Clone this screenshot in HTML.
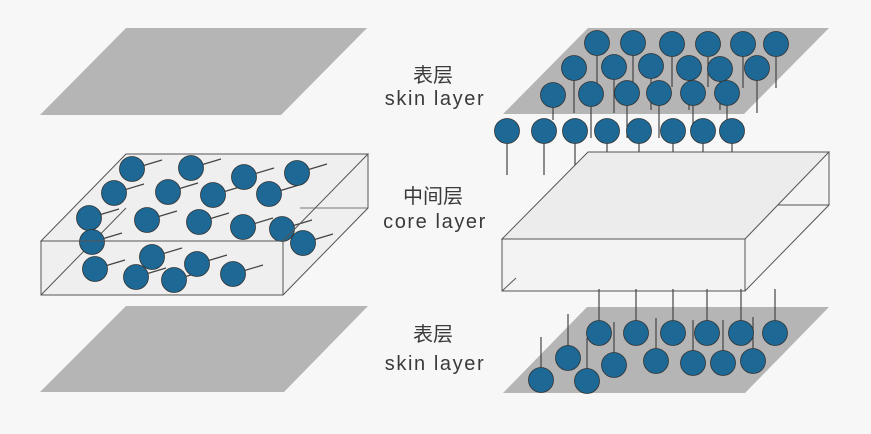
<!DOCTYPE html>
<html><head><meta charset="utf-8"><style>
html,body{margin:0;padding:0;background:#f7f7f7;}
svg{display:block;}
text{font-family:"Liberation Sans","Noto Sans CJK SC",sans-serif;fill:#3a3a3a;font-size:20px;text-anchor:middle;}
.c{fill:#1d6895;stroke:#333;stroke-width:0.8;}
.t{stroke:#444;stroke-width:1.2;}
.e{fill:none;stroke:#555;stroke-width:1;}
</style></head><body>
<svg width="871" height="434" viewBox="0 0 871 434" xmlns="http://www.w3.org/2000/svg">
<rect width="871" height="434" fill="#f7f7f7"/>
<polygon points="126,28 367,28 281,115 40,115" fill="#b5b5b5"/>
<polygon points="126,306 368,306 284,392 40,392" fill="#b5b5b5"/>
<polygon points="126,154 368,154 368,208 283,295 41,295 41,241" fill="#efefef"/>
<line class="e" x1="41" y1="295" x2="126" y2="208"/>
<line x1="300" y1="208" x2="368" y2="208" stroke="#777" stroke-width="1"/>
<g class="t">
<line x1="132" y1="169" x2="162" y2="160"/><line x1="191" y1="168" x2="221" y2="159"/><line x1="244" y1="177" x2="274" y2="168"/><line x1="297" y1="173" x2="327" y2="164"/>
<line x1="114" y1="193" x2="144" y2="184"/><line x1="168" y1="192" x2="198" y2="183"/><line x1="213" y1="195" x2="243" y2="186"/><line x1="269" y1="194" x2="299" y2="185"/>
<line x1="89" y1="218" x2="119" y2="209"/><line x1="147" y1="220" x2="177" y2="211"/><line x1="199" y1="222" x2="229" y2="213"/><line x1="243" y1="227" x2="273" y2="218"/><line x1="282" y1="229" x2="312" y2="220"/>
<line x1="92" y1="242" x2="122" y2="233"/><line x1="303" y1="243" x2="333" y2="234"/>
<line x1="95" y1="269" x2="125" y2="260"/><line x1="152" y1="257" x2="182" y2="248"/><line x1="197" y1="264" x2="227" y2="255"/><line x1="136" y1="277" x2="166" y2="268"/><line x1="174" y1="280" x2="204" y2="271"/><line x1="233" y1="274" x2="263" y2="265"/>
</g>
<g class="c">
<circle cx="132" cy="169" r="12.5"/><circle cx="191" cy="168" r="12.5"/><circle cx="244" cy="177" r="12.5"/><circle cx="297" cy="173" r="12.5"/>
<circle cx="114" cy="193" r="12.5"/><circle cx="168" cy="192" r="12.5"/><circle cx="213" cy="195" r="12.5"/><circle cx="269" cy="194" r="12.5"/>
<circle cx="89" cy="218" r="12.5"/><circle cx="147" cy="220" r="12.5"/><circle cx="199" cy="222" r="12.5"/><circle cx="243" cy="227" r="12.5"/><circle cx="282" cy="229" r="12.5"/>
<circle cx="92" cy="242" r="12.5"/><circle cx="303" cy="243" r="12.5"/>
<circle cx="95" cy="269" r="12.5"/><circle cx="152" cy="257" r="12.5"/><circle cx="197" cy="264" r="12.5"/><circle cx="136" cy="277" r="12.5"/><circle cx="174" cy="280" r="12.5"/><circle cx="233" cy="274" r="12.5"/>
</g>
<g class="e">
<polygon points="126,154 368,154 283,241 41,241"/>
<rect x="41" y="241" width="242" height="54"/>
<polyline points="368,154 368,208 283,295"/>
</g>

<polygon points="588,28 829,28 744,114 503,114" fill="#b5b5b5"/>
<g class="t">
<line x1="597" y1="43" x2="597" y2="83"/><line x1="633" y1="43" x2="633" y2="83"/><line x1="672" y1="43" x2="672" y2="87"/><line x1="708" y1="43" x2="708" y2="87"/><line x1="743" y1="43" x2="743" y2="88"/><line x1="776" y1="43" x2="776" y2="88"/>
<line x1="574" y1="68" x2="574" y2="113"/><line x1="614" y1="68" x2="614" y2="113"/><line x1="651" y1="68" x2="651" y2="110"/><line x1="689" y1="68" x2="689" y2="110"/><line x1="720" y1="68" x2="720" y2="110"/><line x1="757" y1="68" x2="757" y2="113"/>
<line x1="553" y1="94" x2="553" y2="120"/><line x1="591" y1="94" x2="591" y2="138"/><line x1="627" y1="94" x2="627" y2="138"/><line x1="659" y1="94" x2="659" y2="138"/><line x1="693" y1="94" x2="693" y2="138"/><line x1="727" y1="94" x2="727" y2="120"/>
<line x1="507" y1="131" x2="507" y2="175"/><line x1="544" y1="131" x2="544" y2="175"/><line x1="575" y1="131" x2="575" y2="175"/><line x1="607" y1="131" x2="607" y2="175"/><line x1="639" y1="131" x2="639" y2="175"/><line x1="673" y1="131" x2="673" y2="175"/><line x1="703" y1="131" x2="703" y2="175"/><line x1="732" y1="131" x2="732" y2="175"/>
</g>
<g class="c">
<circle cx="597" cy="43" r="12.5"/><circle cx="633" cy="43" r="12.5"/><circle cx="672" cy="44" r="12.5"/><circle cx="708" cy="44" r="12.5"/><circle cx="743" cy="44" r="12.5"/><circle cx="776" cy="44" r="12.5"/>
<circle cx="574" cy="68" r="12.5"/><circle cx="614" cy="67" r="12.5"/><circle cx="651" cy="66" r="12.5"/><circle cx="689" cy="68" r="12.5"/><circle cx="720" cy="69" r="12.5"/><circle cx="757" cy="68" r="12.5"/>
<circle cx="553" cy="95" r="12.5"/><circle cx="591" cy="94" r="12.5"/><circle cx="627" cy="93" r="12.5"/><circle cx="659" cy="93" r="12.5"/><circle cx="693" cy="93" r="12.5"/><circle cx="727" cy="93" r="12.5"/>
<circle cx="507" cy="131" r="12.5"/><circle cx="544" cy="131" r="12.5"/><circle cx="575" cy="131" r="12.5"/><circle cx="607" cy="131" r="12.5"/><circle cx="639" cy="131" r="12.5"/><circle cx="673" cy="131" r="12.5"/><circle cx="703" cy="131" r="12.5"/><circle cx="732" cy="131" r="12.5"/>
</g>

<polygon points="588,152 829,152 829,205 745,291 502,291 502,239" fill="#f3f3f3"/>
<polygon points="588,152 829,152 745,239 502,239" fill="#ececec"/>
<g class="e">
<polygon points="588,152 829,152 745,239 502,239"/>
<rect x="502" y="239" width="243" height="52"/>
<polyline points="829,152 829,205 745,291"/>
<line x1="778" y1="205" x2="829" y2="205"/>
<line x1="502" y1="291" x2="516" y2="278"/>
</g>

<polygon points="587,307 829,307 745,393 503,393" fill="#b5b5b5"/>
<g class="t">
<line x1="599" y1="289" x2="599" y2="333"/><line x1="636" y1="289" x2="636" y2="333"/><line x1="673" y1="289" x2="673" y2="333"/><line x1="707" y1="289" x2="707" y2="333"/><line x1="741" y1="289" x2="741" y2="333"/><line x1="775" y1="289" x2="775" y2="333"/>
<line x1="568" y1="314" x2="568" y2="358"/><line x1="614" y1="322" x2="614" y2="365"/><line x1="656" y1="318" x2="656" y2="361"/><line x1="693" y1="320" x2="693" y2="363"/><line x1="723" y1="320" x2="723" y2="363"/><line x1="753" y1="317" x2="753" y2="361"/>
<line x1="541" y1="337" x2="541" y2="380"/><line x1="587" y1="338" x2="587" y2="381"/>
</g>
<g class="c">
<circle cx="599" cy="333" r="12.5"/><circle cx="636" cy="333" r="12.5"/><circle cx="673" cy="333" r="12.5"/><circle cx="707" cy="333" r="12.5"/><circle cx="741" cy="333" r="12.5"/><circle cx="775" cy="333" r="12.5"/>
<circle cx="568" cy="358" r="12.5"/><circle cx="614" cy="365" r="12.5"/><circle cx="656" cy="361" r="12.5"/><circle cx="693" cy="363" r="12.5"/><circle cx="723" cy="363" r="12.5"/><circle cx="753" cy="361" r="12.5"/>
<circle cx="541" cy="380" r="12.5"/><circle cx="587" cy="381" r="12.5"/>
</g>

<text x="433" y="82">表层</text>
<text x="435" y="105" letter-spacing="1.6">skin layer</text>
<text x="433" y="203">中间层</text>
<text x="435" y="228" letter-spacing="1.6">core layer</text>
<text x="433" y="341">表层</text>
<text x="435" y="370" letter-spacing="1.6">skin layer</text>
</svg>
</body></html>
